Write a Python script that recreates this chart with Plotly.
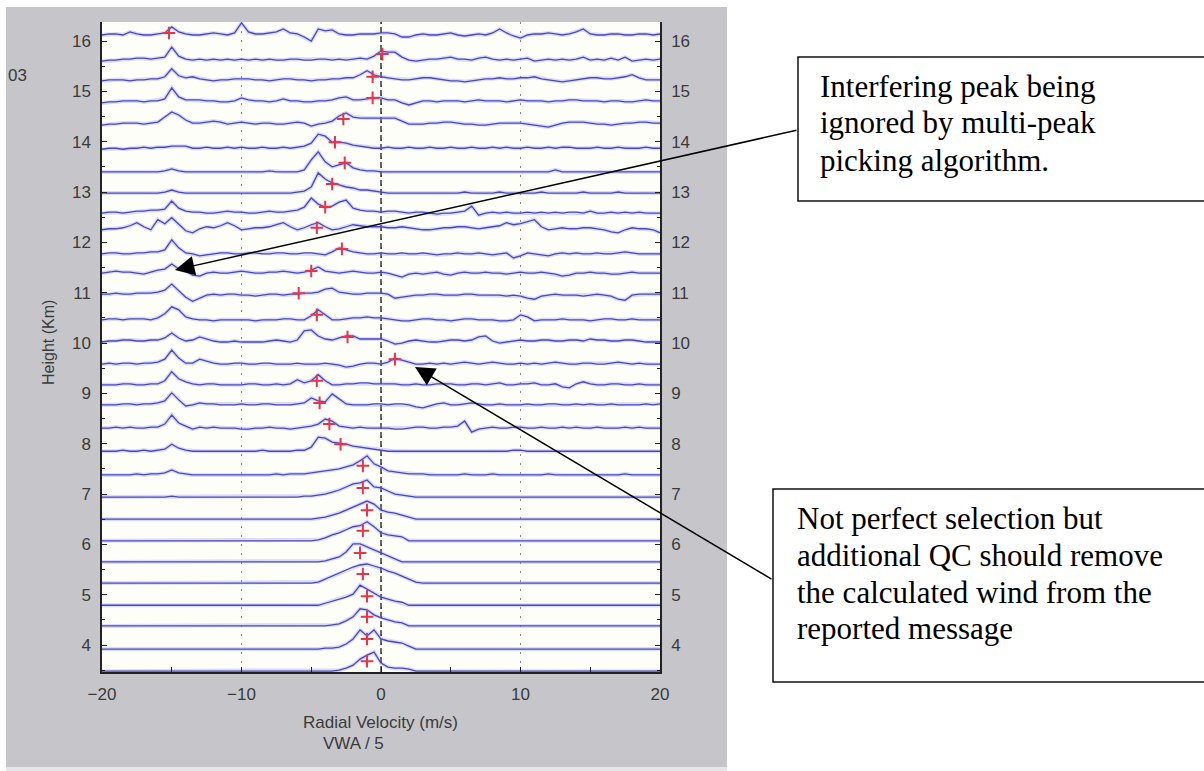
import plotly.graph_objects as go

# ---------------- data ----------------
VELOCITY = [-20.0, -19.5, -19.0, -18.5, -18.0, -17.5, -17.0, -16.5, -16.0, -15.5,
            -15.0, -14.5, -14.0, -13.5, -13.0, -12.5, -12.0, -11.5, -11.0, -10.5,
            -10.0, -9.5, -9.0, -8.5, -8.0, -7.5, -7.0, -6.5, -6.0, -5.5,
            -5.0, -4.5, -4.0, -3.5, -3.0, -2.5, -2.0, -1.5, -1.0, -0.5,
            0.0, 0.5, 1.0, 1.5, 2.0, 2.5, 3.0, 3.5, 4.0, 4.5,
            5.0, 5.5, 6.0, 6.5, 7.0, 7.5, 8.0, 8.5, 9.0, 9.5,
            10.0, 10.5, 11.0, 11.5, 12.0, 12.5, 13.0, 13.5, 14.0, 14.5,
            15.0, 15.5, 16.0, 16.5, 17.0, 17.5, 18.0, 18.5, 19.0, 19.5,
            20.0]

# gate heights (km), bottom to top
HEIGHTS_KM = [3.48, 3.92, 4.38, 4.79, 5.23, 5.65, 6.07, 6.50, 6.94, 7.38,
              7.85, 8.31, 8.77, 9.17, 9.58, 10.02, 10.46, 10.97, 11.39, 11.77,
              12.25, 12.58, 12.98, 13.40, 13.87, 14.37, 14.81, 15.23, 15.62, 16.12]

# spectral amplitude per gate (arbitrary units)
SPEC_00 = [0,0,0,0,0,0,0,0,0,0, 0,0,0,0,0,0,0,0,0,0, 0,0,0,0,0,0,0,0,0,0,
           0,0,0,0,1,3,6,12,16,19, 8,4,3,3,2,0,0,0,0,0,
           0,0,0,0,0,0,0,0,0,0, 0,0,0,0,0,0,0,0,0,0, 0,0,0,0,0,0,0,0,0,0, 0]
SPEC_01 = [0,0,0,0,0,0,0,0,0,0, 0,0,0,0,0,0,0,0,0,0, 0,0,0,0,0,0,0,0,0,0,
           0,0,1,1,2,5,10,19,13,19, 10,8,7,6,3,0,0,0,0,0,
           0,0,0,0,0,0,0,0,0,0, 0,0,0,0,0,0,0,0,0,0, 0,0,0,0,0,0,0,0,0,0, 0]
SPEC_02 = [0,0,0,0,0,0,0,0,0,0, 0,0,0,0,0,0,0,0,0,0, 0,0,0,0,0,0,0,0,0,0,
           0,0,0,1,2,5,9,17,16,11, 8,6,4,3,0,0,0,0,0,0,
           0,0,0,0,0,0,0,0,0,0, 0,0,0,0,0,0,0,0,0,0, 0,0,0,0,0,0,0,0,0,0, 0]
SPEC_03 = [0,0,0,0,0,0,0,0,0,0, 0,0,0,0,0,0,0,0,0,0, 0,0,0,0,0,0,0,0,0,0,
           0,0,2,4,6,8,11,20,16,12, 8,6,4,3,0,0,0,0,0,0,
           0,0,0,0,0,0,0,0,0,0, 0,0,0,0,0,0,0,0,0,0, 0,0,0,0,0,0,0,0,0,0, 0]
SPEC_04 = [0,0,0,0,0,0,0,0,0,0, 0,0,0,0,0,0,0,0,0,0, 0,0,0,0,0,0,0,0,0,0,
           0,1,4,7,10,13,16,18,19,17, 15,12,10,7,4,1,0,0,0,0,
           0,0,0,0,0,0,0,0,0,0, 0,0,0,0,0,0,0,0,0,0, 0,0,0,0,0,0,0,0,0,0, 0]
SPEC_05 = [0,0,0,0,0,0,0,0,0,0, 0,0,0,0,0,0,0,0,0,0, 0,0,0,0,0,0,0,0,0,0,
           0,0,1,3,5,10,18,18,15,12, 9,6,3,0,0,0,0,0,0,0,
           0,0,0,0,0,0,0,0,0,0, 0,0,0,0,0,0,0,0,0,0, 0,0,0,0,0,0,0,0,0,0, 0]
SPEC_06 = [0,0,0,0,0,0,0,0,0,0, 0,0,0,0,0,0,0,0,0,0, 0,0,0,0,0,0,0,0,0,0,
           0,1,3,6,8,11,14,15,19,14, 8,6,5,4,0,0,0,0,0,0,
           0,0,0,0,0,0,0,0,0,0, 0,0,0,0,0,0,0,0,0,0, 0,0,0,0,0,0,0,0,0,0, 0]
SPEC_07 = [0,0,0,0,0,0,0,0,0,0, 0,0,0,0,0,0,0,0,0,0, 0,0,0,0,0,0,0,0,0,0,
           0,1,2,4,6,9,12,15,18,15, 9,7,6,4,2,0,0,0,0,0,
           0,0,0,0,0,0,0,0,0,0, 0,0,0,0,0,0,0,0,0,0, 0,0,0,0,0,0,0,0,0,0, 0]
SPEC_08 = [0,0,0,0,0,0,0,0,0,0, 1,0,0,0,0,0,0,0,0,0, 0,0,0,0,0,0,0,0,0,1,
           1,2,3,5,7,10,13,14,17,10, 9,6,3,2,1,0,0,0,0,0,
           0,0,0,0,0,0,0,0,0,0, 0,0,0,0,0,0,0,0,0,0, 0,0,0,0,0,0,0,0,0,0, 0]
SPEC_09 = [0,0,0,0,0,1,0,1,1,2, 5,2,1,0,0,0,0,0,0,0, 0,0,0,0,0,1,0,1,1,1,
           2,3,4,5,6,8,10,14,19,11, 8,4,3,2,1,1,1,0,0,0,
           0,0,1,0,0,0,1,0,0,0, 0,0,0,0,1,0,0,0,0,0, 0,0,0,0,0,1,0,0,0,0, 0]
SPEC_10 = [0,0,0,1,0,0,1,0,1,2, 7,3,1,0,0,0,0,0,0,0, 0,0,0,1,0,0,0,0,1,1,
           4,14,13,9,8,7,5,4,3,2, 1,0,0,0,0,0,0,0,0,0,
           0,0,0,0,0,0,0,0,0,1, 1,0,0,0,0,0,0,0,0,0, 0,0,0,0,0,0,0,0,0,0, 0]
SPEC_11 = [0,0,1,0,1,0,0,1,1,4, 13,5,2,-1,1,0,1,0,0,0, -1,-1,0,0,1,0,0,-1,0,1,
           2,4,9,7,2,1,0,1,0,0, 0,0,-1,-1,0,1,1,0,0,1,
           1,2,7,-4,-1,0,1,0,0,1, 1,0,0,1,0,0,1,0,1,0, 0,1,0,0,0,1,0,1,0,0, 0]
SPEC_12 = [0,0,0,1,1,0,1,1,2,4, 12,5,-1,0,2,1,1,0,0,0, 1,0,0,1,1,0,0,0,1,2,
           7,4,3,11,6,1,0,0,0,1, 1,0,1,1,0,-2,-3,-1,1,2,
           0,0,1,2,1,0,0,1,0,0, 0,1,0,0,1,1,0,0,1,0, 1,0,0,1,0,0,0,0,1,0, 1]
SPEC_13 = [0,0,0,1,1,0,0,1,1,4, 13,6,3,1,0,1,1,0,0,0, 0,1,1,0,0,1,0,1,5,2,
           4,10,4,0,0,1,1,2,2,1, 1,1,1,0,0,1,0,0,1,1,
           1,0,0,1,1,0,1,2,0,0, 1,1,2,0,0,1,-2,-3,1,3, 1,0,0,1,1,0,0,1,0,0, 0]
SPEC_14 = [0,1,0,1,1,0,1,1,2,5, 14,6,1,1,5,3,1,0,0,1, 1,0,0,1,1,0,0,0,1,0,
           0,0,1,0,-1,-3,-2,0,1,1, 0,2,6,4,2,0,0,1,0,1,
           0,1,2,1,0,1,2,1,0,0, 1,0,1,0,1,2,1,0,0,1, 1,0,0,1,2,1,0,1,0,0, 0]
SPEC_15 = [0,1,1,2,2,1,1,2,2,4, 9,4,1,2,5,3,1,0,0,1, 0,0,0,0,1,2,1,0,2,11,
           12,6,3,2,4,6,6,3,3,3, 3,1,-2,-1,1,2,1,0,0,1,
           2,2,1,2,5,6,1,-1,0,1, 2,1,1,2,2,1,1,2,2,1, 3,2,2,1,1,2,2,1,0,0, 0]
SPEC_16 = [0,1,1,0,1,1,1,0,2,6, 13,10,3,1,0,0,-1,0,0,0, 0,0,-1,0,0,0,1,1,0,0,
           4,10,5,0,0,1,2,2,3,2, 2,1,0,-1,-1,0,1,1,0,0,
           -1,0,1,1,0,0,0,-1,-1,0, 5,3,-1,0,0,0,1,0,0,0, -1,0,1,1,0,0,1,0,0,0, 0]
SPEC_17 = [0,0,1,0,0,1,1,1,2,4, 10,3,-3,-7,-4,-1,0,-1,0,0, -1,-1,-2,-1,0,0,-1,0,0,1,
           1,2,5,6,2,1,0,0,1,1, 1,0,-4,-3,-2,-1,-1,0,0,-1,
           -1,-1,0,0,-1,-1,-1,-1,-2,-1, -2,-4,-5,-2,-1,0,-1,-1,-1,-2, -1,0,-1,-2,-5,-6,-1,0,0,0, 0]
SPEC_18 = [0,1,2,1,1,0,-1,1,3,4, 9,4,2,-2,-3,0,1,0,0,1, 2,1,0,0,1,1,2,1,0,1,
           3,6,2,1,0,1,2,1,0,0, 1,0,-2,-4,-1,0,-1,0,1,-1,
           -2,0,1,0,0,1,0,0,-1,0, 1,0,0,1,0,-1,-3,-2,0,0, 1,0,0,-1,-1,0,1,0,0,0, 0]
SPEC_19 = [0,1,1,0,0,1,1,2,2,4, 14,6,1,0,-2,-1,0,1,1,0, 0,1,1,0,0,1,1,0,0,1,
           1,0,-1,2,6,4,2,1,0,0, 1,0,0,1,0,0,1,0,-1,0,
           0,1,0,0,1,0,-1,0,1,-4, -2,1,0,-1,-2,0,1,0,1,0, 0,1,0,0,1,2,1,0,0,0, 0]
SPEC_20 = [0,1,1,2,4,7,3,0,10,6, 12,5,-1,-3,1,3,2,4,7,4, 0,1,2,2,3,5,7,3,0,2,
           5,7,3,0,1,3,5,4,3,3, 3,2,2,3,2,1,0,0,1,2,
           2,3,3,2,1,2,3,4,7,5, 6,8,10,3,0,1,2,1,1,2, 2,1,0,-2,-3,0,2,1,1,0, -3]
SPEC_21 = [0,1,1,0,1,2,2,3,3,4, 12,5,2,1,1,0,0,1,2,1, 1,0,0,1,2,1,1,2,3,6,
           15,9,6,7,11,13,5,3,2,2, 1,2,2,1,0,1,1,0,-1,0,
           0,1,2,7,-2,0,1,0,1,0, 0,1,0,1,0,1,0,1,1,0, 2,0,0,1,0,1,0,1,0,0, 0]
SPEC_22 = [0,0,0,0,0,0,0,0,0,1, 3,1,0,0,0,0,0,0,0,0, 0,0,0,0,0,0,0,0,1,2,
           6,20,14,10,8,6,5,3,3,2, 1,0,0,0,0,0,0,0,0,0,
           0,0,1,0,0,0,0,1,0,0, 0,0,0,1,0,0,0,0,0,1, 0,0,0,0,1,0,0,0,0,0, 0]
SPEC_23 = [0,0,0,0,0,0,0,0,0,1, 3,1,0,0,0,0,0,0,0,0, 0,0,0,0,1,0,0,0,0,2,
           12,20,10,5,7,9,4,2,1,1, 0,0,0,0,0,0,0,0,0,0,
           0,0,0,0,0,0,0,0,0,0, 0,0,0,0,0,2,0,0,0,0, 0,0,0,0,0,0,0,0,0,0, 0]
SPEC_24 = [-1,0,0,-1,0,0,1,0,1,1, 2,2,2,0,0,1,0,0,1,0, 1,0,0,1,0,0,1,0,1,2,
           5,14,12,6,6,5,3,2,1,0, 0,1,0,0,1,0,0,1,0,0,
           1,0,0,1,0,0,1,0,1,0, 0,1,0,0,1,0,1,1,0,0, 0,1,0,0,1,0,0,0,1,0, 0]
SPEC_25 = [-2,-1,-1,0,0,0,-1,0,1,6, 11,8,3,0,0,1,2,1,-1,0, 1,0,-1,0,0,-1,-1,0,1,0,
           -3,-1,0,2,7,10,6,5,5,5, 5,5,5,2,-1,-1,-1,0,0,1,
           1,0,-1,-1,-2,-2,-1,0,0,0, 0,-1,-2,-3,-4,-2,0,1,1,1, 0,-1,-1,-2,-1,0,0,1,1,0, 0]
SPEC_26 = [-2,-1,-1,0,0,0,-1,0,0,2, 13,4,1,1,1,0,0,-1,-1,0, 3,1,0,0,-1,0,2,0,0,-1,
           -1,0,0,1,3,4,1,1,2,3, 3,1,1,-2,-4,-2,0,0,-1,0,
           0,0,-1,0,1,0,0,0,-1,0, 1,0,0,0,-1,0,0,1,1,0, 0,0,-1,0,0,-1,-1,0,1,0, 0]
SPEC_27 = [-1,0,0,0,-1,0,0,1,1,3, 11,4,2,3,1,0,-1,0,0,1, 1,1,0,0,-1,0,1,1,0,0,
           -1,0,0,1,1,2,2,5,9,5, 3,2,1,0,0,1,2,2,1,0,
           -1,-1,-2,-1,0,1,1,2,1,1, 2,2,3,1,0,-1,-2,-1,0,1, 2,2,1,1,2,3,5,2,0,0, 0]
SPEC_28 = [-1,0,0,1,1,2,2,1,2,3, 13,4,1,0,1,0,1,0,1,0, 1,0,1,0,1,0,0,1,1,0,
           0,1,1,0,1,0,1,2,1,4, 9,8,8,3,0,-1,0,1,1,2,
           3,1,1,0,2,3,1,0,1,0, 1,2,-1,0,1,0,1,0,1,3, 0,1,0,2,0,3,-1,0,1,0, 1]
SPEC_29 = [0,1,1,0,3,1,0,0,1,2, 8,3,1,0,0,1,2,1,0,2, 12,3,1,1,2,3,6,2,1,-2,
           -6,6,4,5,1,0,0,1,1,1, 2,2,1,-2,-2,0,1,0,0,1,
           2,0,-1,0,1,0,2,6,2,-1, -3,0,1,1,2,1,0,1,3,6, 1,0,0,1,1,0,0,1,1,0, 1]

# picked peak per gate (velocity m/s, amplitude units)
PEAK_VEL = [-1.0, -1.0, -1.0, -1.0, -1.3, -1.5, -1.3, -1.0, -1.3, -1.3,
            -2.9, -3.7, -4.4, -4.6, 1.0, -2.4, -4.6, -5.9, -5.0, -2.8,
            -4.6, -4.0, -3.5, -2.6, -3.3, -2.7, -0.6, -0.6, 0.1, -15.2]
PEAK_AMP = [10, 10, 9, 9, 9, 9, 10, 9, 9, 9,
            7, 4, 2, 4, 5, 5, 5, 1, 2, 5,
            2, 6, 9, 9, 6, 4, 3, 3, 6, 2]

AMP_SCALE_KM = 0.02          # km of plot height per amplitude unit
X_RANGE = [-20, 20]
Y_RANGE = [3.464, 16.378]

SPECTRA = [SPEC_00, SPEC_01, SPEC_02, SPEC_03, SPEC_04, SPEC_05, SPEC_06, SPEC_07,
           SPEC_08, SPEC_09, SPEC_10, SPEC_11, SPEC_12, SPEC_13, SPEC_14, SPEC_15,
           SPEC_16, SPEC_17, SPEC_18, SPEC_19, SPEC_20, SPEC_21, SPEC_22, SPEC_23,
           SPEC_24, SPEC_25, SPEC_26, SPEC_27, SPEC_28, SPEC_29]
assert all(len(s) == len(VELOCITY) for s in SPECTRA), [len(s) for s in SPECTRA]

# ---------------- layout geometry ----------------
W, H = 1204, 771
ML, MR, MT, MB = 102, 544, 22, 99
PW, PH = W - ML - MR, H - MT - MB


def px(x):
    return (x - ML) / PW


def py(y):
    return (H - MB - y) / PH


SANS = "Liberation Sans, Arial, sans-serif"
SERIF = "Liberation Serif, Times New Roman, serif"
LINE_BLUE = "#4848c6"
HALO = "rgba(125,125,232,0.28)"
TEXT_GRAY = "#3a3a3a"

fig = go.Figure()

# zero-velocity reference
fig.add_trace(go.Scatter(x=[0, 0], y=Y_RANGE, mode="lines",
                         line=dict(color="#1a1a1a", width=1.3, dash="6px,3px"),
                         hoverinfo="skip", showlegend=False))

for h, spec in zip(HEIGHTS_KM, SPECTRA):
    yy = [h + a * AMP_SCALE_KM for a in spec]
    fig.add_trace(go.Scatter(x=VELOCITY, y=yy, mode="lines",
                             line=dict(color=HALO, width=4),
                             hoverinfo="skip", showlegend=False))
    fig.add_trace(go.Scatter(x=VELOCITY, y=yy, mode="lines",
                             line=dict(color=LINE_BLUE, width=1.3),
                             hoverinfo="skip", showlegend=False))

fig.add_trace(go.Scatter(
    x=PEAK_VEL,
    y=[h + a * AMP_SCALE_KM for h, a in zip(HEIGHTS_KM, PEAK_AMP)],
    mode="markers",
    marker=dict(symbol="cross-thin", size=9, line=dict(width=2, color="#e8344a")),
    hoverinfo="skip", showlegend=False))

# dummy trace so the right-hand axis is drawn
fig.add_trace(go.Scatter(x=[0], y=[10], yaxis="y2", mode="markers",
                         marker=dict(opacity=0), hoverinfo="skip", showlegend=False))

tickfont = dict(family=SANS, size=17, color=TEXT_GRAY)
yaxis_common = dict(range=Y_RANGE, tickmode="linear", tick0=0, dtick=1,
                    showline=True, linecolor="#222", linewidth=1.5,
                    ticks="inside", ticklen=5, tickwidth=1.2, tickcolor="#222",
                    minor=dict(dtick=0.5, tick0=0, ticks="inside", ticklen=3,
                               tickcolor="#222", showgrid=False),
                    showgrid=False, zeroline=False, tickfont=tickfont,
                    ticklabelstandoff=6, fixedrange=True)

GRAY = "#c6c6ca"
shapes = [
    # grey picture frame around the axes
    dict(type="rect", xref="paper", yref="paper", x0=px(6), x1=px(727), y0=py(22), y1=py(7),
         fillcolor=GRAY, line=dict(width=0), layer="below"),
    dict(type="rect", xref="paper", yref="paper", x0=px(6), x1=px(727), y0=py(767), y1=py(672),
         fillcolor=GRAY, line=dict(width=0), layer="below"),
    dict(type="rect", xref="paper", yref="paper", x0=px(6), x1=px(102), y0=py(672), y1=py(22),
         fillcolor=GRAY, line=dict(width=0), layer="below"),
    dict(type="rect", xref="paper", yref="paper", x0=px(660), x1=px(727), y0=py(672), y1=py(22),
         fillcolor=GRAY, line=dict(width=0), layer="below"),
    dict(type="rect", xref="paper", yref="paper", x0=px(6), x1=px(727), y0=py(771), y1=py(767),
         fillcolor="#e6e6e8", line=dict(width=0), layer="below"),
    # callout boxes
    dict(type="rect", xref="paper", yref="paper", x0=px(798), x1=px(1215), y0=py(201), y1=py(57),
         fillcolor="rgba(255,255,255,0)", line=dict(color="#111", width=1.5)),
    dict(type="rect", xref="paper", yref="paper", x0=px(773), x1=px(1215), y0=py(682), y1=py(489),
         fillcolor="rgba(255,255,255,0)", line=dict(color="#111", width=1.5)),
]

annotations = [
    dict(text="Radial Velocity (m/s)", xref="paper", yref="paper", x=px(380), y=py(722),
         xanchor="center", yanchor="middle",
         showarrow=False, font=dict(family=SANS, size=17, color=TEXT_GRAY)),
    dict(text="VWA / 5", xref="paper", yref="paper", x=px(353), y=py(743),
         xanchor="center", yanchor="middle",
         showarrow=False, font=dict(family=SANS, size=17, color=TEXT_GRAY)),
    dict(text="Height (Km)", xref="paper", yref="paper", x=px(48), y=py(343), textangle=-90,
         xanchor="center", yanchor="middle",
         showarrow=False, font=dict(family=SANS, size=16, color=TEXT_GRAY)),
    dict(text="03", xref="paper", yref="paper", x=px(29), y=py(76), xanchor="right",
         yanchor="middle",
         showarrow=False, font=dict(family=SANS, size=17, color=TEXT_GRAY)),
]

box1_lines = ["Interfering peak being", "ignored by multi-peak", "picking algorithm."]
for txt, yc in zip(box1_lines, [87, 123, 160]):
    annotations.append(dict(text=txt, xref="paper", yref="paper", x=px(818), y=py(yc),
                            xanchor="left", yanchor="middle", showarrow=False,
                            font=dict(family=SERIF, size=31, color="#000")))
box2_lines = ["Not perfect selection but", "additional QC should remove",
              "the calculated wind from the", "reported message"]
for txt, yc in zip(box2_lines, [518, 555, 592, 628]):
    annotations.append(dict(text=txt, xref="paper", yref="paper", x=px(795), y=py(yc),
                            xanchor="left", yanchor="middle", showarrow=False,
                            font=dict(family=SERIF, size=31, color="#000")))

# arrows (tip in data coordinates, tail offset in pixels)
annotations.append(dict(text="", x=-14.77, y=11.451, xref="x", yref="y",
                        ax=623, ay=-140, showarrow=True, arrowhead=2, arrowsize=2.6,
                        arrowwidth=1.5, arrowcolor="#000", standoff=0))
annotations.append(dict(text="", x=2.437, y=9.524, xref="x", yref="y",
                        ax=358, ay=213, showarrow=True, arrowhead=2, arrowsize=2.6,
                        arrowwidth=1.5, arrowcolor="#000", standoff=0))

fig.update_layout(
    width=W, height=H, autosize=False,
    margin=dict(l=ML, r=MR, t=MT, b=MB, pad=0),
    paper_bgcolor="#ffffff", plot_bgcolor="#fefef8",
    showlegend=False,
    xaxis=dict(range=X_RANGE, tickmode="linear", tick0=0, dtick=10,
               showline=True, linecolor="#222", linewidth=1.5,
               ticks="inside", ticklen=5, tickwidth=1.2, tickcolor="#222",
               minor=dict(dtick=5, tick0=0, ticks="inside", ticklen=5,
                          tickcolor="#222", showgrid=False),
               showgrid=True, gridcolor="#8c8c8c", gridwidth=1, griddash="2px,7px",
               zeroline=False, tickfont=tickfont, ticklabelstandoff=6, fixedrange=True),
    yaxis=dict(**yaxis_common),
    yaxis2=dict(**yaxis_common, overlaying="y", side="right", anchor="x"),
    shapes=shapes,
    annotations=annotations,
)

fig.write_html("out.html", config={"displayModeBar": False},
               post_script="document.body.style.margin='0';document.body.style.overflow='hidden';")
